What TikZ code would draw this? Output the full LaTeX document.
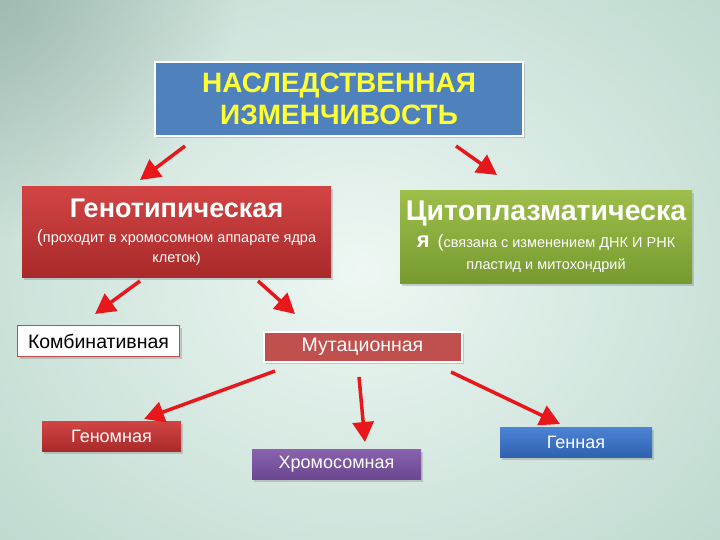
\documentclass[tikz,border=0pt]{standalone}
\usepackage{fontspec}
\setmainfont{Liberation Sans}
\usetikzlibrary{arrows.meta,shadows,fadings}
\definecolor{bgin}{HTML}{EEF7F3}
\definecolor{bgout}{HTML}{BCD9CE}
\definecolor{bgdark}{HTML}{8FA79F}
\definecolor{arrred}{HTML}{E8171B}
\definecolor{topblue}{HTML}{4F81BD}
\definecolor{topyel}{HTML}{FFFF33}
\definecolor{redtop}{HTML}{D24444}
\definecolor{redbot}{HTML}{A92A2A}
\definecolor{grtop}{HTML}{9DBE4A}
\definecolor{grbot}{HTML}{779A30}
\definecolor{mutred}{HTML}{C0504D}
\definecolor{kombord}{HTML}{B9504E}
\definecolor{purtop}{HTML}{8A62AE}
\definecolor{purbot}{HTML}{6A4790}
\definecolor{bltop}{HTML}{4C84D6}
\definecolor{blbot}{HTML}{2F62B0}
\tikzfading[name=softfade, inner color=transparent!0, outer color=transparent!100]
\tikzset{
  boxbase/.style={rectangle, inner sep=0pt, align=center,
    drop shadow={opacity=0.35, shadow xshift=2pt, shadow yshift=-2.5pt}},
  redbox/.style={boxbase, top color=redtop, bottom color=redbot, text=white},
  greenbox/.style={boxbase, top color=grtop, bottom color=grbot, text=white},
  topbox/.style={boxbase, fill=topblue, draw=white, line width=2.5pt, text=topyel},
  kombox/.style={boxbase, fill=white, draw=kombord, line width=1.5pt, text=black},
  mutbox/.style={boxbase, fill=mutred, draw=white, line width=2pt, text=white},
  purbox/.style={boxbase, top color=purtop, bottom color=purbot, text=white},
  bluebox/.style={boxbase, top color=bltop, bottom color=blbot, text=white},
  redarrow/.style={draw=arrred, line width=3.5pt,
    -{Triangle[length=20pt,width=21pt]}},
}
\begin{document}
\begin{tikzpicture}[x=1pt,y=-1pt]
\useasboundingbox (0,0) rectangle (720,540);
\begin{scope}
\clip (0,0) rectangle (720,540);
\fill[bgout] (0,0) rectangle (720,540);
\shade[inner color=bgin, outer color=bgout] (-150,-150) rectangle (870,690);
\fill[bgdark, opacity=0.7, path fading=softfade] (-20,-20) circle (260);
\end{scope}

\node[topbox, minimum width=368pt, minimum height=74pt,
      font=\fontsize{28}{32}\selectfont\bfseries] (top) at (339,99)
  {НАСЛЕДСТВЕННАЯ\\ИЗМЕНЧИВОСТЬ};

\node[redbox, minimum width=309pt, minimum height=90pt,
      font=\fontsize{14.5}{19.5}\selectfont] (geno) at (176.5,232)
  {{\fontsize{27}{30}\selectfont\bfseries Генотипическая}\\[6pt]
   {\fontsize{18}{19}\selectfont(}проходит в хромосомном аппарате ядра\\
   клеток)};

\node[greenbox, minimum width=292pt, minimum height=92pt,
      font=\fontsize{14.5}{22}\selectfont] (cyto) at (546,237)
  {{\fontsize{28.5}{30}\selectfont\bfseries Цитоплазматическа}\\[5pt]
   {\fontsize{22}{22}\selectfont\bfseries я}\ \ {\fontsize{18}{22}\selectfont(}связана с изменением ДНК И РНК\\
   пластид и митохондрий};

\node[kombox, minimum width=162pt, minimum height=31pt,
      font=\fontsize{19.5}{22}\selectfont] (komb) at (98.5,341)
  {Комбинативная};

\node[mutbox, minimum width=198pt, minimum height=30pt,
      font=\fontsize{19.5}{22}\selectfont] (mut) at (362.5,346.5)
  {Мутационная};

\node[redbox, minimum width=139pt, minimum height=30pt,
      font=\fontsize{18}{22}\selectfont] (genom) at (111.5,436)
  {Геномная};

\node[purbox, minimum width=169pt, minimum height=30pt,
      font=\fontsize{18}{22}\selectfont] (chrom) at (336.5,464)
  {Хромосомная};

\node[bluebox, minimum width=152pt, minimum height=30pt,
      font=\fontsize{18}{22}\selectfont] (gen) at (576,442)
  {Генная};

\coordinate (a1s) at (185,146); \coordinate (a1e) at (140,180);
\coordinate (a2s) at (456,146); \coordinate (a2e) at (497,175);
\coordinate (a3s) at (140,281); \coordinate (a3e) at (95,314);
\coordinate (a4s) at (258,281); \coordinate (a4e) at (295,314);
\coordinate (a5s) at (275,371); \coordinate (a5e) at (144,419);
\coordinate (a6s) at (359,377); \coordinate (a6e) at (365,442);
\coordinate (a7s) at (451,372); \coordinate (a7e) at (560,424);

\draw[redarrow] (a1s) -- (a1e);
\draw[redarrow] (a2s) -- (a2e);
\draw[redarrow] (a3s) -- (a3e);
\draw[redarrow] (a4s) -- (a4e);
\draw[redarrow] (a5s) -- (a5e);
\draw[redarrow] (a6s) -- (a6e);
\draw[redarrow] (a7s) -- (a7e);
\end{tikzpicture}
\end{document}
